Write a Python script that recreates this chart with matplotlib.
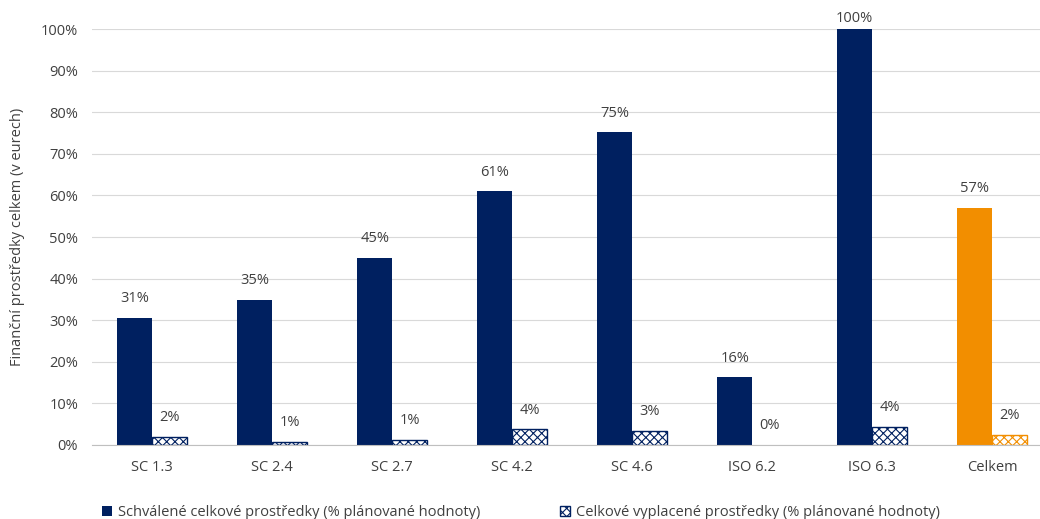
import numpy as np
import matplotlib
matplotlib.use("Agg")
import matplotlib.pyplot as plt
from matplotlib.ticker import FuncFormatter

plt.rcParams["font.family"] = ["Open Sans", "DejaVu Sans"]
plt.rcParams["hatch.linewidth"] = 0.8

# data
categories = ["SC 1.3", "SC 2.4", "SC 2.7", "SC 4.2", "SC 4.6", "ISO 6.2", "ISO 6.3", "Celkem"]
approved = [30.6, 34.9, 45.0, 61.0, 75.2, 16.3, 100.0, 57.0]
paid = [1.9, 0.7, 1.2, 3.8, 3.4, 0.0, 4.3, 2.4]
approved_labels = ["31%", "35%", "45%", "61%", "75%", "16%", "100%", "57%"]
paid_labels = ["2%", "1%", "1%", "4%", "3%", "0%", "4%", "2%"]

navy = "#002060"
orange = "#F28E00"
colors = [navy] * 7 + [orange]

fig = plt.figure(figsize=(10.4, 5.19), dpi=100)
# plot area runs slightly past the right edge in the original
ax = fig.add_axes([0.0885, 0.1426, 0.9115, 0.8015])

x = np.arange(len(categories))
w = 0.29

ax.bar(x - w / 2, approved, w, color=colors, zorder=3,
       label="Schválené celkové prostředky (% plánované hodnoty)")
for i in range(len(categories)):
    ax.bar(x[i] + w / 2, paid[i], w, facecolor="white", edgecolor=colors[i],
           hatch="xxxx", linewidth=1.0 if paid[i] > 0 else 0, zorder=3,
           label="Celkové vyplacené prostředky (% plánované hodnoty)" if i == 0 else None)

for i in range(len(categories)):
    # labels sit a bit above the bar; the 100% one is pushed down to stay inside
    y1 = min(approved[i] + 2.8, 100.8)
    ax.text(x[i] - w / 2, y1, approved_labels[i], ha="center", va="bottom",
            fontsize=10.5, color="#404040", clip_on=False)
    ax.text(x[i] + w / 2, paid[i] + 2.8, paid_labels[i], ha="center", va="bottom",
            fontsize=10.5, color="#404040")

ax.set_xlim(-0.5, len(categories) - 0.6)
ax.set_ylim(0, 100)
ax.set_yticks(np.arange(0, 101, 10))
ax.yaxis.set_major_formatter(FuncFormatter(lambda v, p: f"{int(v)}%"))
ax.set_xticks(x)
ax.set_xticklabels(categories)
ax.tick_params(axis="both", length=0, labelsize=10.5, colors="#404040")
ax.tick_params(axis="x", pad=11)
ax.tick_params(axis="y", pad=10)
ax.grid(axis="y", color="#D9D9D9", linewidth=0.8, zorder=0)
for s in ["top", "right", "left"]:
    ax.spines[s].set_visible(False)
ax.spines["bottom"].set_color("#BFBFBF")
ax.spines["bottom"].set_zorder(4)

ax.set_ylabel("Finanční prostředky celkem (v eurech)", fontsize=10.5, color="#404040")
ax.yaxis.set_label_coords(-0.071, 0.5)

handles, labels = ax.get_legend_handles_labels()
fig.legend(handles, labels, loc="lower left", bbox_to_anchor=(0.085, -0.027), ncol=2,
           frameon=False, fontsize=10.5, handlelength=0.7, handleheight=0.7,
           handletextpad=0.4, columnspacing=5.5, labelcolor="#404040")

fig.savefig("out.png", dpi=100)
